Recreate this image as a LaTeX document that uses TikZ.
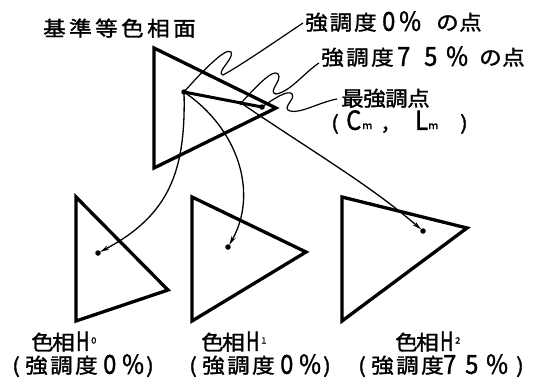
\documentclass[tikz,border=0pt]{standalone}
\usepackage{fontspec}
\setmainfont[FakeStretch=1.1,FakeBold=1.5]{Noto Sans CJK JP}
\usetikzlibrary{arrows.meta}
\newcommand{\putat}[2]{\makebox[0pt][l]{\hspace*{#1}#2}}
\newcommand{\tdg}[1]{\raisebox{-0.8pt}{\scalebox{1.05}[1.28]{#1}}}
\newcommand{\tH}{\raisebox{-0.8pt}{\scalebox{0.8}[1.28]{H}}}
\newcommand{\tsub}[1]{\raisebox{6.5pt}{\fontsize{8.5}{9}\selectfont #1}}
\newcommand{\tsm}[1]{{\fontsize{10}{10}\selectfont #1}}
\newcommand{\tpar}[1]{\raisebox{-1pt}{\scalebox{1}[0.95]{#1}}}
\begin{document}
\begin{tikzpicture}[x=1pt,y=-1pt,
  tri/.style={line width=3.3pt,line join=miter},
  lead/.style={line width=1.2pt},
  conn/.style={line width=1.3pt,-{Stealth[length=9pt,width=4.5pt]},shorten >=2.5pt},
  pt/.style={circle,fill=black,inner sep=0pt,minimum size=5.5pt},
  lab/.style={anchor=base west,inner sep=0pt,font=\fontsize{20.5}{22}\selectfont}]
\useasboundingbox (0,0) rectangle (534,383);

% reference plane (top triangle)
\draw[tri] (154,48) -- (154,168) -- (276,108) -- cycle;
\node[pt] (p0) at (184,92) {};
\node[pt,minimum size=4pt] (p75) at (241,103) {};
\node[pt] (pm) at (262,107) {};
\draw[line width=3pt] (p0.center) -- (pm.center);

% bottom triangles
\draw[tri] (76,197) -- (76,321) -- (168,290) -- cycle;
\draw[tri] (192,197) -- (192,321) -- (306,252) -- cycle;
\draw[tri] (342,197) -- (342,321) -- (467,228) -- cycle;
\node[pt] (h0) at (98,253) {};
\node[pt] (h1) at (228,247) {};
\node[pt] (h2) at (423,231) {};

% labels (base west, baseline = centre + 7)
\node[lab] (title) at (43,36)
  {\putat{0pt}{基}\putat{26pt}{準}\putat{52pt}{等}\putat{78pt}{色}\putat{104pt}{相}\putat{130pt}{面}\hspace*{152pt}};
\node[lab] (l1) at (305,30)
  {\putat{0pt}{強}\putat{24.5pt}{調}\putat{49pt}{度}\putat{77pt}{\tdg{0}}\putat{94pt}{\tdg{\%}}\putat{131pt}{の}\putat{154pt}{点}\hspace*{176pt}};
\node[lab] (l2) at (321,65)
  {\putat{0pt}{強}\putat{25pt}{調}\putat{50pt}{度}\putat{76pt}{\tdg{7}}\putat{103pt}{\tdg{5}}\putat{125pt}{\tdg{\%}}\putat{158pt}{の}\putat{181pt}{点}\hspace*{204pt}};
\node[lab] (l3) at (341,106)
  {\putat{0pt}{最}\putat{22pt}{強}\putat{44pt}{調}\putat{66pt}{点}\hspace*{88pt}};
\node[lab] (l4) at (331,129)
  {\putat{0pt}{\tpar{(}}\putat{15pt}{\tdg{C}}\putat{31pt}{\tsm{m}}\putat{51pt}{,}\putat{84pt}{\tdg{L}}\putat{97pt}{\tsm{m}}\putat{129pt}{\tpar{)}}\hspace*{137pt}};

\node[lab] (b0a) at (31,350)
  {\putat{0pt}{色}\putat{21pt}{相}\putat{45pt}{\tH}\putat{60pt}{\tsub{0}}\hspace*{66pt}};
\node[lab] (b0b) at (12,373)
  {\putat{0pt}{(}\putat{13pt}{強}\putat{38pt}{調}\putat{63pt}{度}\putat{91pt}{\tdg{0}}\putat{110pt}{\tdg{\%}}\putat{134pt}{)}\hspace*{142pt}};
\node[lab] (b1a) at (201,350)
  {\putat{0pt}{色}\putat{21pt}{相}\putat{45pt}{\tH}\putat{60pt}{\tsub{1}}\hspace*{66pt}};
\node[lab] (b1b) at (189,373)
  {\putat{0pt}{(}\putat{13pt}{強}\putat{38pt}{調}\putat{63pt}{度}\putat{91pt}{\tdg{0}}\putat{110pt}{\tdg{\%}}\putat{134pt}{)}\hspace*{142pt}};
\node[lab] (b2a) at (395,350)
  {\putat{0pt}{色}\putat{21pt}{相}\putat{45pt}{\tH}\putat{60pt}{\tsub{2}}\hspace*{66pt}};
\node[lab] (b2b) at (358,373)
  {\putat{0pt}{(}\putat{13pt}{強}\putat{38pt}{調}\putat{63pt}{度}\putat{85pt}{\tdg{7}}\putat{107pt}{\tdg{5}}\putat{128pt}{\tdg{\%}}\putat{158pt}{)}\hspace*{166pt}};

% leaders
\draw[lead] (p0.center) .. controls (198,76) and (226,46) .. (231,52)
  .. controls (235,58) and (215,73) .. (223,75)
  .. controls (240,66) and (285,35) .. ([xshift=-2pt,yshift=7pt]l1.base west);
\draw[lead] (p75.center) .. controls (255,88) and (273,68) .. (278,74)
  .. controls (283,80) and (267,92) .. (276,94)
  .. controls (290,92) and (305,72) .. ([xshift=-2pt,yshift=2pt]l2.base west);
\draw[lead] (pm.center) .. controls (272,100) and (288,89) .. (292,94)
  .. controls (296,99) and (281,108) .. (290,111)
  .. controls (300,114) and (320,102) .. ([xshift=-4pt,yshift=7pt]l3.base west);

% connectors
\draw[conn] (p0.center) .. controls (186,170) and (170,215) .. (h0.center);
\draw[conn] (p0.center) .. controls (240,130) and (258,195) .. (h1.center);
\draw[conn] (p75.center) .. controls (310,150) and (370,185) .. (h2.center);
\end{tikzpicture}
\end{document}
